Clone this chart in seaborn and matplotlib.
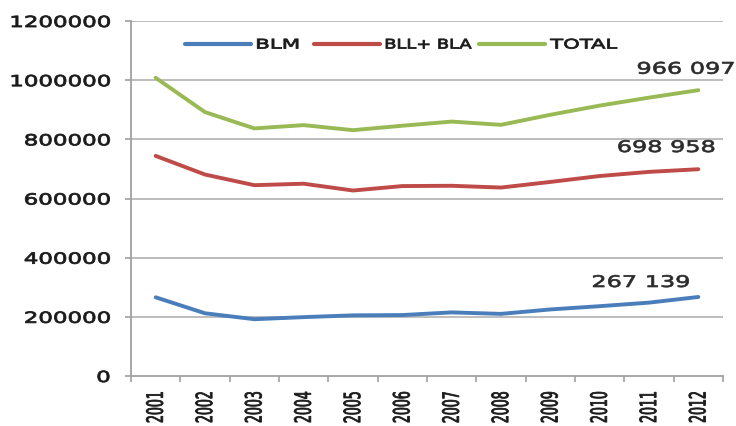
import matplotlib
matplotlib.use("Agg")
import matplotlib.pyplot as plt
from matplotlib.patheffects import AbstractPathEffect
from matplotlib.transforms import Affine2D
from matplotlib.ticker import FixedLocator
import seaborn as sns
import pandas as pd

# ---- data -------------------------------------------------------------
years = [2001, 2002, 2003, 2004, 2005, 2006, 2007, 2008, 2009, 2010, 2011, 2012]
blm = [266000, 212000, 192000, 199000, 205000, 206000, 215000, 210000,
       225000, 236000, 248000, 267139]
bll_bla = [744000, 681000, 645000, 650000, 627000, 642000, 643000, 637000,
           656000, 676000, 690000, 698958]
total = [1008000, 892000, 837000, 848000, 831000, 846000, 860000, 849000,
         883000, 914000, 941000, 966097]
series_names = ["BLM", "BLL+ BLA", "TOTAL"]
series_colors = ["#4A7EBB", "#BE4B48", "#98B954"]
y_ticks = [0, 200000, 400000, 600000, 800000, 1000000, 1200000]
end_labels = ["267 139", "698 958", "966 097"]
end_values = [blm[-1], bll_bla[-1], total[-1]]

df = pd.DataFrame({
    "year": years * 3,
    "value": blm + bll_bla + total,
    "series": [series_names[0]] * 12 + [series_names[1]] * 12 + [series_names[2]] * 12,
})


class WideText(AbstractPathEffect):
    """Draw a text path widened horizontally around a fraction of its extent,
    with an optional outline in the text colour to give heavier strokes."""

    def __init__(self, sx, anchor=0.5, weight=0.0):
        super().__init__()
        self.sx = sx
        self.anchor = anchor
        self.weight = weight

    def draw_path(self, renderer, gc, tpath, affine, rgbFace=None):
        bb = tpath.get_extents(affine)
        xa = bb.x0 + self.anchor * bb.width
        wide = affine + Affine2D().translate(-xa, 0).scale(self.sx, 1).translate(xa, 0)
        gc0 = renderer.new_gc()
        gc0.copy_properties(gc)
        if self.weight > 0 and rgbFace is not None:
            gc0.set_linewidth(self.weight)
            gc0.set_foreground(rgbFace)
        renderer.draw_path(gc0, tpath, wide, rgbFace)
        gc0.restore()


sns.set_theme(style="white")
plt.rcParams["font.family"] = ["DejaVu Sans"]

fig = plt.figure(figsize=(7.36, 4.26), dpi=100)
ax = fig.add_axes([131 / 736, 50 / 426, 592 / 736, 355 / 426])

grid_col = "#b8b8b8"
for yv in y_ticks[1:]:
    ax.axhline(yv, color=grid_col, lw=1.3, zorder=0)

sns.lineplot(data=df, x="year", y="value", hue="series", palette=series_colors,
             hue_order=series_names, linewidth=2.8, ax=ax, legend=False, zorder=3)

ax.set_xlim(years[0] - 0.5, years[-1] + 0.5)
ax.set_ylim(0, 1200000)
ax.set_xlabel("")
ax.set_ylabel("")

for side in ["top", "right"]:
    ax.spines[side].set_visible(False)
for side in ["left", "bottom"]:
    ax.spines[side].set_color("#a0a0a0")
    ax.spines[side].set_linewidth(1.3)

# y axis
ax.set_yticks(y_ticks)
ax.set_yticklabels([str(v) for v in y_ticks])
ax.tick_params(axis="y", direction="out", length=4.5, width=1.2, color="#a0a0a0",
               pad=10.5, labelsize=11, labelcolor="#1a1a1a", left=True)
for t in ax.get_yticklabels():
    t.set_path_effects([WideText(1.5, anchor=1.0, weight=0.6)])

# x axis: labels at category centres, ticks on category boundaries
ax.set_xticks(years)
ax.set_xticklabels([str(y) for y in years], rotation=90)
ax.xaxis.set_minor_locator(FixedLocator([y - 0.5 for y in years] + [years[-1] + 0.5]))
ax.tick_params(axis="x", which="major", length=0, pad=11, labelsize=9,
               labelcolor="#1a1a1a", bottom=True)
ax.tick_params(axis="x", which="minor", direction="out", length=4, width=1.2,
               color="#a0a0a0", bottom=True)
for t in ax.get_xticklabels():
    t.set_va("top")
    t.set_path_effects([WideText(1.8, anchor=0.5, weight=0.6)])

# value labels at the last year
offsets = [(-57.5, 14.5), (-32, 21.7), (-12.5, 21)]
for txt, val, off in zip(end_labels, end_values, offsets):
    a = ax.annotate(txt, xy=(years[-1], val), xytext=off, textcoords="offset pixels",
                    ha="center", va="center", fontsize=11.5, color="#2a2a2a",
                    annotation_clip=False, zorder=5)
    a.set_path_effects([WideText(1.5, anchor=0.5, weight=0.5)])

# legend
handles = [plt.Line2D([], [], color=c, lw=3.0) for c in series_colors]
leg = fig.legend(handles, series_names, loc="center left",
                 bbox_to_anchor=(185 / 736, 1 - 45 / 426), ncol=3, frameon=False,
                 fontsize=9.5, handlelength=5.0, handletextpad=0.38,
                 columnspacing=2.27, borderpad=0, borderaxespad=0)
for t, s in zip(leg.get_texts(), [1.62, 1.35, 1.6]):
    t.set_color("#1a1a1a")
    t.set_path_effects([WideText(s, anchor=0.0, weight=0.6)])

fig.savefig("out.png", dpi=100)
